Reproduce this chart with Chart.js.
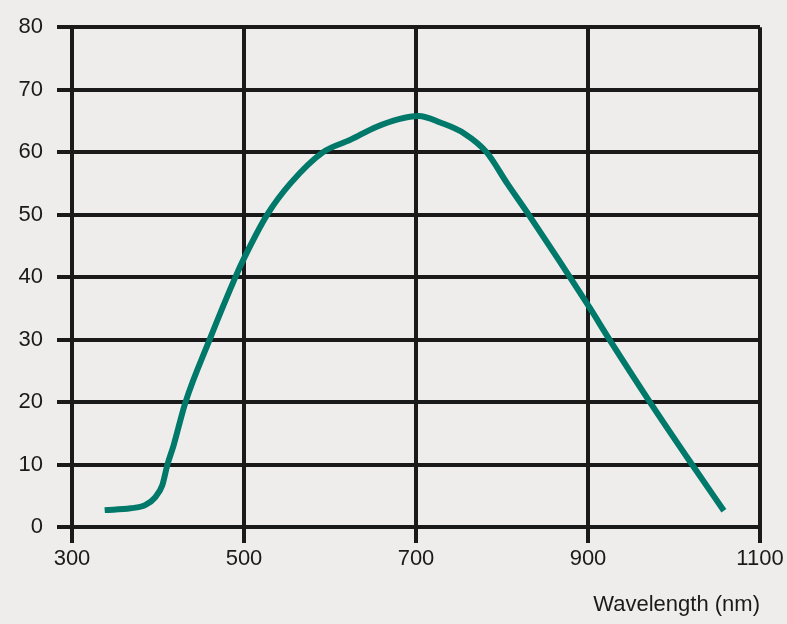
<!DOCTYPE html>
<html>
<head>
<meta charset="utf-8">
<script src="https://cdn.jsdelivr.net/npm/chart.js@4"></script>
<style>
  html, body { margin: 0; padding: 0; background: #eeedeb; }
  canvas { display: block; }
</style>
</head>
<body>
<canvas id="chart" width="787" height="624"></canvas>
<script>
// spectral response
const wavelengths = [338, 368, 385, 397, 405, 411, 418, 432, 460, 490, 500, 527, 554, 592, 624, 653, 680, 703, 729, 756, 782, 806, 831, 901, 925, 972, 1021, 1058];
const response = [2.7, 3.0, 3.5, 4.8, 6.7, 10, 13, 20, 30, 40, 43, 50, 55, 60, 62, 64, 65.3, 65.8, 64.7, 63, 60, 55, 50, 35.3, 30, 20, 10, 2.6];
const xTicks = [300, 500, 700, 900, 1100];
const yTicks = [0, 10, 20, 30, 40, 50, 60, 70, 80];
const xTitle = 'Wavelength (nm)';

const ink = '#1a1a1a';
const font = { family: '"Liberation Sans", Arial, sans-serif', size: 22 };

const ctx = document.getElementById('chart').getContext('2d');
new Chart(ctx, {
    type: 'line',
    data: {
        datasets: [{
            data: wavelengths.map((w, i) => ({ x: w, y: response[i] })),
            borderColor: '#00786a',
            borderWidth: 6,
            pointRadius: 0,
            cubicInterpolationMode: 'monotone',
            fill: false
        }]
    },
    options: {
        responsive: false,
        animation: false,
        layout: { padding: { top: 24, right: 27, left: 0, bottom: 0 } },
        plugins: { legend: { display: false }, tooltip: { enabled: false } },
        scales: {
            x: {
                type: 'linear',
                min: xTicks[0],
                max: xTicks[xTicks.length - 1],
                afterBuildTicks: s => { s.ticks = xTicks.map(v => ({ value: v })); },
                afterFit: s => { s.height = 97; },
                grid: { color: ink, lineWidth: 4, tickLength: 16 },
                border: { color: ink, width: 4 },
                ticks: { color: ink, font: font, padding: 3, maxRotation: 0, callback: v => String(v) },
                title: { display: true, text: xTitle, align: 'end', color: ink, font: font, padding: { top: 0, bottom: 6 } }
            },
            y: {
                min: yTicks[0],
                max: yTicks[yTicks.length - 1],
                afterBuildTicks: s => { s.ticks = yTicks.map(v => ({ value: v })); },
                afterFit: s => { s.width = 72; },
                grid: { color: ink, lineWidth: 4, tickLength: 15 },
                border: { color: ink, width: 4 },
                ticks: { color: ink, font: font, padding: 14, callback: v => String(v) }
            }
        }
    }
});
</script>
</body>
</html>
